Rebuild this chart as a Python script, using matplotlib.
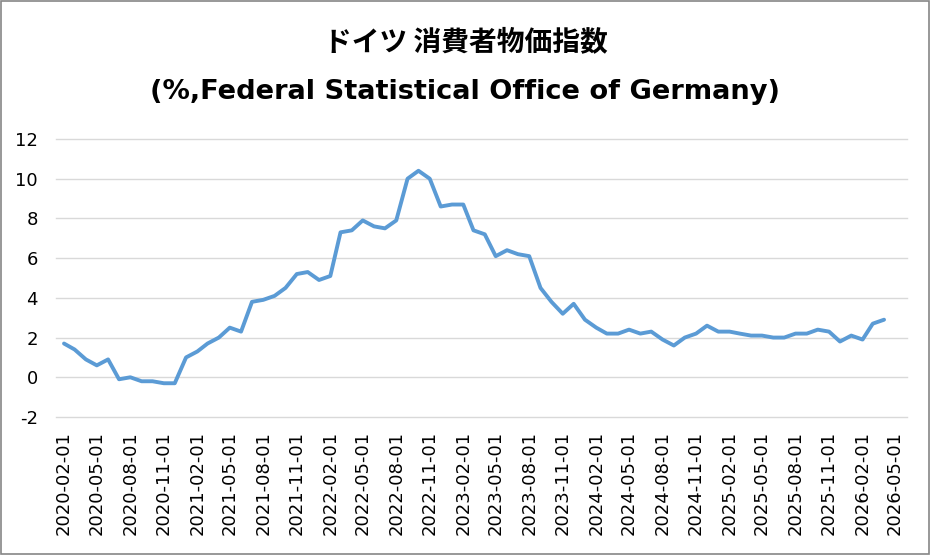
import matplotlib
matplotlib.use("Agg")
import matplotlib.pyplot as plt
import pandas as pd
from matplotlib.patches import Rectangle

plt.rcParams['font.family'] = ['DejaVu Sans', 'Noto Sans CJK JP']
plt.rcParams['axes.unicode_minus'] = False

# monthly CPI, year-on-year %, 2020-02 .. 2026-04
START = "2020-02-01"
CPI = [
    1.7, 1.4, 0.9, 0.6, 0.9, -0.1, 0.0, -0.2, -0.2, -0.3, -0.3,           # 2020-02..12
    1.0, 1.3, 1.7, 2.0, 2.5, 2.3, 3.8, 3.9, 4.1, 4.5, 5.2, 5.3,           # 2021
    4.9, 5.1, 7.3, 7.4, 7.9, 7.6, 7.5, 7.9, 10.0, 10.4, 10.0, 8.6,        # 2022
    8.7, 8.7, 7.4, 7.2, 6.1, 6.4, 6.2, 6.1, 4.5, 3.8, 3.2, 3.7,           # 2023
    2.9, 2.5, 2.2, 2.2, 2.4, 2.2, 2.3, 1.9, 1.6, 2.0, 2.2, 2.6,           # 2024
    2.3, 2.3, 2.2, 2.1, 2.1, 2.0, 2.0, 2.2, 2.2, 2.4, 2.3, 1.8,           # 2025
    2.1, 1.9, 2.7, 2.9,                                                   # 2026-01..04
]
dates = pd.date_range(START, periods=len(CPI), freq="MS")
tick_dates = pd.date_range("2020-02-01", "2026-05-01", freq="3MS")
tick_labels = [d.strftime("%Y-%m-%d") for d in tick_dates]
yticks = list(range(-2, 13, 2))

TITLE1 = "ドイツ 消費者物価指数"
TITLE2 = "(%,Federal Statistical Office of Germany)"

fig = plt.figure(figsize=(9.31, 5.55), dpi=100)
ax = fig.add_axes([56 / 931, 1 - 417 / 555, (907 - 56) / 931, (417 - 139) / 555])

ax.plot(dates, CPI, color="#5B9BD5", lw=2.8, solid_joinstyle="round", solid_capstyle="round")

ax.set_ylim(-2, 12)
ax.set_yticks(yticks)
ax.set_xlim(pd.Timestamp("2020-01-10"), pd.Timestamp("2026-06-03"))
ax.set_xticks(tick_dates)
ax.set_xticklabels(tick_labels, rotation=90)
ax.tick_params(length=0, labelsize=13, colors="#000000")
ax.tick_params(axis="x", pad=10)
ax.tick_params(axis="y", pad=13)
ax.grid(axis="y", color="#D9D9D9", lw=1.0)
for gl in ax.get_ygridlines():
    gl.set_clip_on(False)
ax.set_axisbelow(True)
for s in ax.spines.values():
    s.set_visible(False)

fig.text(0.5, 1 - 42 / 555, TITLE1, ha="center", va="center", fontsize=20,
         fontweight="bold", family=["Noto Sans CJK JP", "DejaVu Sans"])
fig.text(0.5, 1 - 92 / 555, TITLE2, ha="center", va="center", fontsize=19.6,
         fontweight="bold")

fig.patches.append(Rectangle((0.001, 0.001), 0.997, 0.997, transform=fig.transFigure,
                             fill=False, edgecolor="#868686", lw=1.2))

fig.savefig("out.png", dpi=100)
